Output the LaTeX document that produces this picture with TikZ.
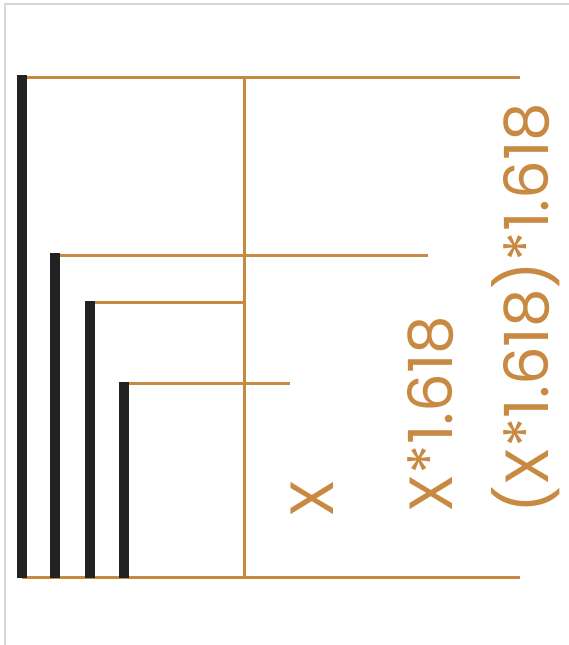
\documentclass[tikz,border=0pt]{standalone}
\usepackage{fontspec}
\setmainfont{Poppins}
\definecolor{gold}{RGB}{200,138,66}
\definecolor{barblack}{RGB}{34,34,34}
\definecolor{framegray}{RGB}{215,215,215}
\begin{document}
\begin{tikzpicture}[x=1pt,y=-1pt,
  goldline/.style={draw=gold,line width=3pt},
  blackbar/.style={draw=barblack,line width=10pt,line cap=butt},
  framelines/.style={draw=framegray,line width=1.5pt},
  lbl/.style={text=gold,font=\fontsize{61}{61}\selectfont,inner sep=0pt,rotate=90,anchor=base}]
\useasboundingbox (0,0) rectangle (569,645);
\draw[framelines] (5,645) -- (5,4) -- (569,4);
% orange lines
\draw[goldline] (22,77) -- (520,77);
\draw[goldline] (244,77) -- (244,577);
\draw[goldline] (22,577) -- (520,577);
\draw[goldline] (55,255) -- (428,255);
\draw[goldline] (90,302) -- (244,302);
\draw[goldline] (124,383) -- (290,383);
% black bars
\draw[blackbar] (22,75) -- (22,578);
\draw[blackbar] (55,253) -- (55,578);
\draw[blackbar] (90,301) -- (90,578);
\draw[blackbar] (124,382) -- (124,578);
% labels
\node[lbl] (lx) at (333,499) {X};
\node[lbl] (lx1) at (452,414) {X*1.618};
\node[lbl] (lx2) at (548,308) {(X*1.618)*1.618};
\end{tikzpicture}
\end{document}
